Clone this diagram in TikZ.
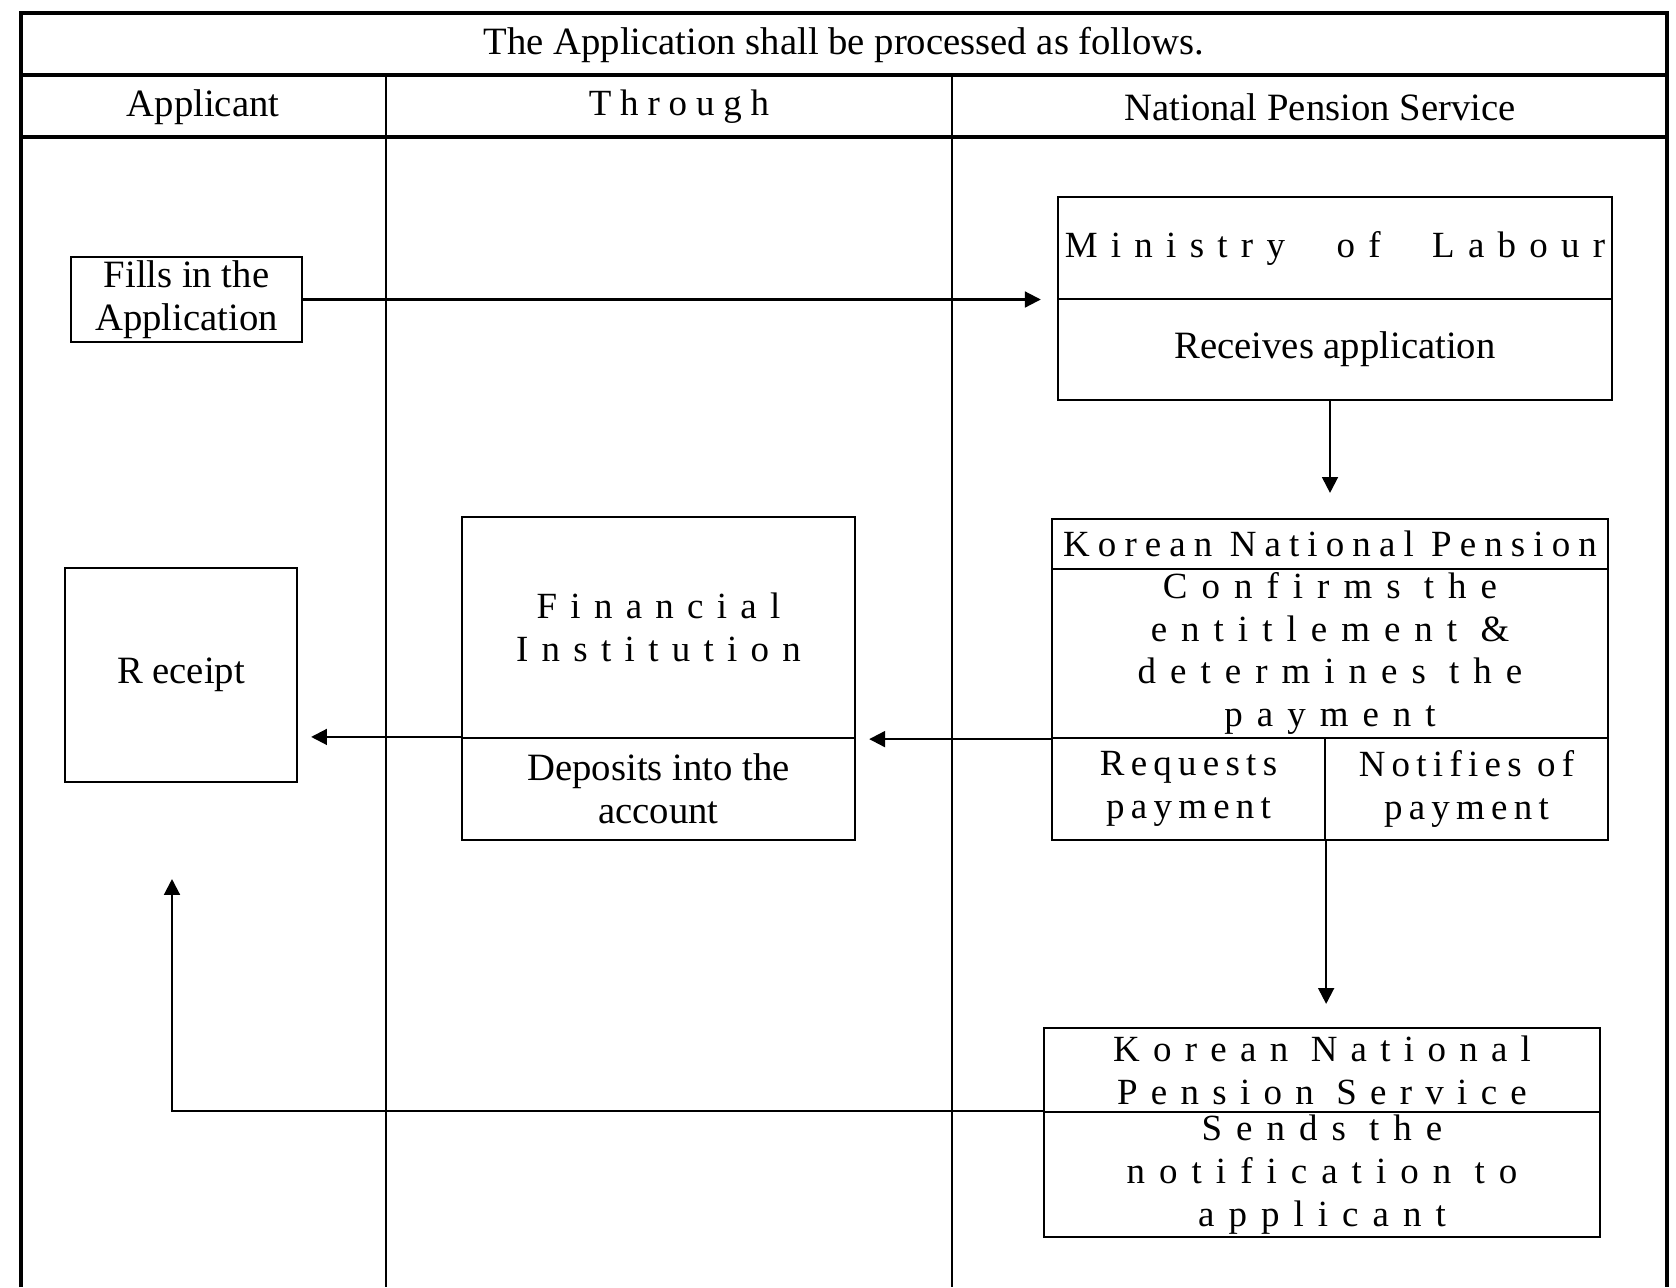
\documentclass[tikz,border=0pt]{standalone}
\usepackage{fontspec}
\setmainfont{Liberation Serif}
\newfontfamily\trackfamily{Liberation Serif}
\usepackage{tikz}
\usetikzlibrary{arrows.meta}
\pgfdeclarelayer{bg}
\pgfsetlayers{bg,main}
\def\lbplain{\fontsize{11}{12.2}\selectfont}
\def\lbtrack{\trackfamily\fontsize{10.5}{12.2}\selectfont}
\def\lbgap{\hspace{0.29cm} }

\begin{document}
\begin{tikzpicture}[x=0.01cm,y=-0.01cm,
  plain/.style={font=\lbplain},
  track/.style={font={\lbtrack\addfontfeature{LetterSpace=#1}}},
  track/.default=36,
  cell/.style 2 args={shape=rectangle,draw,line width=0.6pt,inner sep=0pt,minimum width=#1cm,minimum height=#2cm,align=center,plain},
  flow/.style={-{Triangle[length=4.5pt,width=4.5pt]},line width=0.6pt}]

\useasboundingbox (0,0) rectangle (1676,1287);

% Draw the frame...
\draw[line width=0.9pt] (21,1287) -- (21,13) -- (1667,13) -- (1667,1287);
\draw[line width=0.9pt] (21,75) -- (1667,75);
\draw[line width=0.9pt] (21,137) -- (1667,137);
\draw[line width=0.7pt] (386,75) -- (386,1287);
\draw[line width=0.7pt] (952,75) -- (952,1287);

% Draw the nodes...
\node (0) at (  844,   45) [plain] {The Application shall be processed as follows.};
\node (1) at (  203,  107) [plain] {Applicant};
\node (2) at (  679,  107) [track=24] {Through};
\node (3) at ( 1320,  107) [plain] {National Pension Service};

\node (4) at (186.5,299.5) [cell={2.31}{0.85}] {Fills in the\\Application};
\node (5) at ( 1335,  248) [cell={5.54}{1.02},track] {Ministry\lbgap of\lbgap Labour};
\node (6) at ( 1335,349.5) [cell={5.54}{1.01}] {Receives application};
\node (7) at ( 1330,  544) [cell={5.56}{0.50},track=22] {Korean National Pension};
\node (8) at ( 1330,653.5) [cell={5.56}{1.69},track=38] {Confirms the\\entitlement \&\\determines the\\payment};
\node (9) at (1188.5, 789) [cell={2.73}{1.02},track=17] {Requests\\payment};
\node (10) at (1466.5,789) [cell={2.83}{1.02},track=17] {Notifies of\\payment};
\node (11) at (658.5,627.5) [cell={3.93}{2.21},track] {Financial\\Institution};
\node (12) at (658.5,  789) [cell={3.93}{1.02}] {Deposits into the\\account};
\node (13) at (  181,  675) [cell={2.32}{2.14}] {R eceipt};
\node (14) at ( 1322, 1070) [cell={5.56}{0.84},track] {Korean National\\Pension Service};
\node (15) at ( 1322,1174.5) [cell={5.56}{1.25},track=38] {Sends the\\notification to\\applicant};
\coordinate (16) at (172,879);

% Draw the edges...
\begin{pgfonlayer}{bg}
\draw[flow,shorten >=0.16cm] (4.east) -- (4.east -| 6.north west);
\draw[flow,shorten >=0.25cm] (6.south -| 7.north) -- (7.north);
\draw[flow,shorten >=0.13cm] (8.south west) -- (8.south west -| 12.east);
\draw[flow,shorten >=0.13cm] (12.north west) -- (12.north west -| 13.east);
\draw[flow,shorten >=0.23cm] (9.south east) -- (9.south east |- 14.north);
\draw[flow] (15.north west) -| (16);
\end{pgfonlayer}

\end{tikzpicture}
\end{document}
